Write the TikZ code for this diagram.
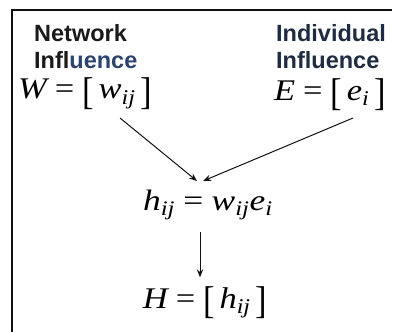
\documentclass[tikz,border=0pt]{standalone}
\usepackage{amsmath}
\usepackage{fontspec}
\setmainfont{Liberation Serif}
\setsansfont{Liberation Sans}
\usepackage{graphicx}
\usetikzlibrary{arrows.meta}
\definecolor{lblNetText}{HTML}{1A1A1A}
\definecolor{lblNetTint}{HTML}{2C4470}
\definecolor{lblIndText}{HTML}{1F2B42}
\definecolor{frameLine}{HTML}{111111}
\definecolor{arrLine}{HTML}{111111}
\newcommand{\tv}[1]{\text{\itshape #1}}
\newcommand{\teq}{\mathrel{\text{=}}}
\newcommand{\lbk}{\mathopen{\text{\raisebox{-0.18em}{\scalebox{1}[1.29]{[}}}}}
\newcommand{\rbk}{\mathclose{\text{\raisebox{-0.18em}{\scalebox{1}[1.29]{]}}}}}

\begin{document}
\begin{tikzpicture}[
  x=1pt, y=-1pt,
  label/.style={
    anchor=base west,
    align=left,
    inner sep=0pt,
    font=\sffamily\bfseries\fontsize{23.5}{27}\selectfont
  },
  mathbig/.style={
    inner sep=0pt,
    font=\fontsize{30}{30}\selectfont
  },
  mathmid/.style={
    inner sep=0pt,
    font=\fontsize{29.5}{30}\selectfont
  },
  arr/.style={-{Stealth[length=2.8mm, width=2.2mm]}, arrLine, line width=1pt}
]
  \useasboundingbox (0,0) rectangle (400,332);

  % frame
  \coordinate (frameTop) at (12,10);
  \draw[frameLine, line width=1.3pt] (12,332) -- (frameTop) -- (392,10);

  % labels
  \node[label, text=lblNetText] (netLbl) at (34,68) {Network\\Infl\textcolor{lblNetTint}{uence}};
  \node[label, text=lblIndText] (indLbl) at (276,68) {Individual\\Influence};

  % matrices
  \node[mathbig, anchor=base west] (wMat) at (18,99) {\scalebox{1.15}[1]{$\tv{W}\teq\lbk\,\tv{w}_{\tv{ij}}\,\rbk$}};
  \node[mathbig, anchor=base west] (eMat) at (274,100) {\scalebox{1.15}[1]{$\tv{E}\teq\lbk\,\tv{e}_{\tv{i}}\,\rbk$}};
  \node[mathmid, anchor=base] (hRow) at (208,210) {\scalebox{1.2}[1]{$\tv{h}_{\tv{ij}}\teq\tv{w}_{\tv{ij}}\tv{e}_{\tv{i}}$}};
  \node[mathbig, anchor=base] (hMat) at (205,308) {\scalebox{1.15}[1]{$\tv{H}\teq\lbk\,\tv{h}_{\tv{ij}}\,\rbk$}};

  % connectors
  \coordinate (wFoot) at (120,118);
  \coordinate (eFoot) at (353,118);
  \coordinate (meet) at (200,181);
  \draw[arr] (wFoot) -- ([xshift=-3pt]meet);
  \draw[arr] (eFoot) -- ([xshift=3pt]meet);
  \draw[arr, shorten <=12pt, shorten >=9pt] (hRow.south -| meet) -- (hMat.north -| meet);

\end{tikzpicture}
\end{document}
